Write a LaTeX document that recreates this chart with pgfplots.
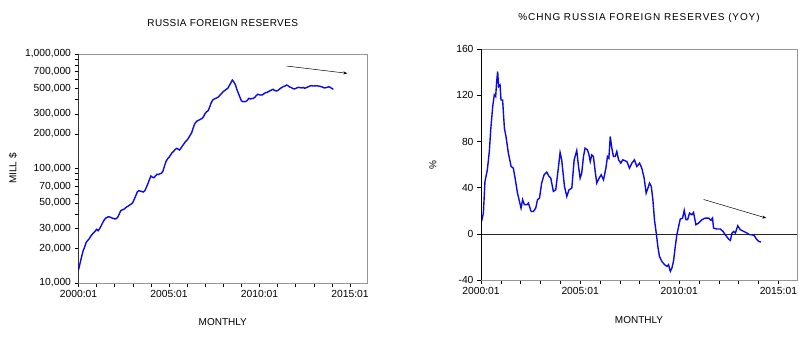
\documentclass[border=0pt]{standalone}
\usepackage{fontspec}
\setmainfont{Liberation Sans}
\newfontfamily\titlefont[LetterSpace=4]{Liberation Sans}
\newfontfamily\titlefontwide[LetterSpace=9]{Liberation Sans}
\usepackage{pgfplots}
\pgfplotsset{compat=1.18}
\usetikzlibrary{arrows.meta}
\definecolor{lineblue}{RGB}{10,10,230}
\definecolor{framegray}{RGB}{150,150,150}

\pgfplotstableread{
x y
2000.000 13000
2000.083 14800
2000.167 16800
2000.250 19000
2000.333 20500
2000.417 22500
2000.500 23500
2000.583 24200
2000.667 25500
2000.750 26500
2000.833 27500
2000.917 28300
2001.000 29400
2001.083 28600
2001.167 29800
2001.250 31500
2001.333 33500
2001.417 35500
2001.500 36800
2001.583 37500
2001.667 37900
2001.750 37600
2001.833 37000
2001.917 36700
2002.000 36200
2002.083 36500
2002.167 37500
2002.250 40000
2002.333 42800
2002.417 43500
2002.500 44000
2002.583 45000
2002.667 46300
2002.750 47000
2002.833 48000
2002.917 49000
2003.000 50500
2003.083 54000
2003.167 58000
2003.250 62500
2003.333 64000
2003.417 63500
2003.500 63000
2003.583 62300
2003.667 64000
2003.750 68500
2003.833 73500
2003.917 80000
2004.000 86000
2004.083 84000
2004.167 83000
2004.250 86000
2004.333 89000
2004.417 88500
2004.500 90000
2004.583 91000
2004.667 95000
2004.750 105000
2004.833 115000
2004.917 121000
2005.000 125000
2005.083 131000
2005.167 137000
2005.250 141000
2005.333 146000
2005.417 150000
2005.500 148000
2005.583 145000
2005.667 151000
2005.750 158000
2005.833 165000
2005.917 172000
2006.000 177000
2006.083 185000
2006.167 195000
2006.250 205000
2006.333 225000
2006.417 245000
2006.500 255000
2006.583 262000
2006.667 265000
2006.750 270000
2006.833 274000
2006.917 285000
2007.000 303000
2007.083 313000
2007.167 320000
2007.250 345000
2007.333 375000
2007.417 397000
2007.500 405000
2007.583 410000
2007.667 415000
2007.750 425000
2007.833 440000
2007.917 454000
2008.000 470000
2008.083 480000
2008.167 492000
2008.250 502000
2008.333 530000
2008.417 560000
2008.500 592000
2008.583 570000
2008.667 540000
2008.750 490000
2008.833 454000
2008.917 420000
2009.000 390000
2009.083 384000
2009.167 383000
2009.250 385000
2009.333 395000
2009.417 410000
2009.500 405000
2009.583 408000
2009.667 410000
2009.750 420000
2009.833 435000
2009.917 445000
2010.000 440000
2010.083 438000
2010.167 440000
2010.250 450000
2010.333 459000
2010.417 462000
2010.500 470000
2010.583 478000
2010.667 485000
2010.750 492000
2010.833 480000
2010.917 476000
2011.000 478000
2011.083 490000
2011.167 502000
2011.250 512000
2011.333 520000
2011.417 525000
2011.500 536000
2011.583 528000
2011.667 515000
2011.750 510000
2011.833 500000
2011.917 495000
2012.000 500000
2012.083 507000
2012.167 512000
2012.250 508000
2012.333 505000
2012.417 510000
2012.500 502000
2012.583 508000
2012.667 515000
2012.750 522000
2012.833 529000
2012.917 527000
2013.000 525000
2013.083 527000
2013.167 528000
2013.250 525000
2013.333 522000
2013.417 518000
2013.500 512000
2013.583 505000
2013.667 508000
2013.750 512000
2013.833 518000
2013.917 510000
2014.000 500000
2014.083 492000
}\reserves

\pgfplotstableread{
x y
2000.03 10.8
2000.12 18.0
2000.20 45.4
2000.32 55.5
2000.42 71.4
2000.49 90.2
2000.59 110.4
2000.67 120.5
2000.74 119.0
2000.79 132.0
2000.84 140.7
2000.89 127.7
2000.96 129.1
2001.01 116.1
2001.09 116.0
2001.18 91.6
2001.26 84.4
2001.38 70.0
2001.52 58.4
2001.63 57.0
2001.72 48.3
2001.84 35.3
2001.92 29.6
2002.02 22.3
2002.10 29.6
2002.19 25.2
2002.31 25.2
2002.39 26.7
2002.53 19.4
2002.64 19.4
2002.76 22.3
2002.85 29.6
2002.95 31.0
2003.06 44.0
2003.18 51.2
2003.32 53.5
2003.43 49.8
2003.52 48.3
2003.65 36.8
2003.77 38.2
2003.91 58.4
2003.99 70.5
2004.07 64.2
2004.21 41.1
2004.33 32.4
2004.44 38.2
2004.58 39.6
2004.70 64.2
2004.83 72.3
2004.92 58.4
2005.00 48.3
2005.08 52.6
2005.17 67.1
2005.25 74.3
2005.37 72.8
2005.45 68.5
2005.51 62.7
2005.59 68.5
2005.67 67.1
2005.76 54.1
2005.84 44.0
2005.96 48.3
2006.06 51.2
2006.18 46.9
2006.30 57.0
2006.38 67.1
2006.45 65.6
2006.52 84.4
2006.60 74.3
2006.68 67.1
2006.77 67.1
2006.85 71.4
2006.94 64.2
2007.05 61.3
2007.15 64.2
2007.36 62.7
2007.49 57.0
2007.61 61.3
2007.74 64.2
2007.86 58.4
2008.00 61.3
2008.11 57.0
2008.23 48.3
2008.33 35.3
2008.42 39.6
2008.50 44.0
2008.59 41.1
2008.67 29.6
2008.75 12.2
2008.84 0.7
2008.92 -10.9
2009.00 -19.5
2009.12 -23.8
2009.26 -26.7
2009.38 -28.2
2009.46 -26.7
2009.55 -32.5
2009.63 -29.6
2009.71 -23.8
2009.80 -10.9
2009.88 -0.8
2009.97 6.5
2010.05 12.8
2010.17 13.7
2010.25 20.3
2010.34 12.2
2010.42 12.2
2010.52 18.0
2010.64 16.6
2010.72 18.6
2010.84 7.9
2010.98 9.4
2011.14 12.2
2011.31 13.7
2011.48 13.7
2011.60 11.7
2011.68 13.7
2011.73 5.0
2011.90 4.2
2012.07 4.2
2012.21 2.1
2012.32 -0.8
2012.49 -4.5
2012.58 -5.7
2012.66 0.7
2012.74 2.1
2012.83 0.7
2012.95 7.0
2013.08 3.6
2013.25 2.1
2013.42 0.7
2013.55 -0.8
2013.67 -0.8
2013.79 -1.6
2013.89 -4.5
2014.01 -6.5
2014.12 -7.1
}\yoy

\pgfplotsset{
  evstyle/.style={
    scale only axis,
    axis line style={framegray, line width=0.6pt},
    tick align=outside,
    xtick pos=bottom, ytick pos=left,
    major tick length=4pt, minor tick length=4pt,
    every tick/.style={black, line width=0.5pt},
    every minor tick/.style={black, line width=0.5pt},
    tick label style={font=\fontsize{10.3}{12}\selectfont},
    label style={font=\fontsize{10}{12}\selectfont},
    title style={font=\titlefont\fontsize{10}{12}\selectfont},
    /pgf/number format/assume math mode=true,
    xmin=2000, xmax=2015.94,
    xtick={2000,2005,2010,2015},
    xticklabels={2000:01,2005:01,2010:01,2015:01},
    minor xtick={2001,2002,2003,2004,2006,2007,2008,2009,2011,2012,2013,2014},
  }
}

\begin{document}
\begin{tikzpicture}
\useasboundingbox (0,0) rectangle (804pt,351pt);

\begin{axis}[evstyle,
  at={(78.5pt,68pt)}, anchor=south west,
  width=288.5pt, height=229pt,
  ymode=log, ymin=10000, ymax=1000000,
  ytick={10000,20000,30000,50000,70000,100000,200000,300000,500000,700000,1000000},
  yticklabels={{10,000},{20,000},{30,000},{50,000},{70,000},{100,000},{200,000},{300,000},{500,000},{700,000},{1,000,000}},
  minor ytick={40000,60000,80000,90000,400000,600000,800000,900000},
  title={RUSSIA FOREIGN RESERVES},
  title style={at={(0.5,1)}, anchor=center, yshift=25pt},
  xlabel={MONTHLY},
  xlabel style={at={(axis description cs:0.5,0)}, anchor=center, yshift=-39pt},
  ylabel={MILL \$},
  ylabel style={at={(axis description cs:-0.227,0.5)}, anchor=center},
]
\addplot[lineblue, line width=1.4pt] table[x=x,y=y] {\reserves};
\draw[black, line width=0.6pt] (rel axis cs:0,1) -- (rel axis cs:0,0) -- (rel axis cs:1,0);
\draw[black, line width=0.5pt, -{Stealth[length=4pt,width=3pt]}] (axis cs:2011.5,785000) -- (axis cs:2014.85,678000);
\end{axis}

\begin{axis}[evstyle,
  at={(481pt,71pt)}, anchor=south west,
  width=316pt, height=230.7pt,
  ymin=-40, ymax=160,
  ytick={-40,0,40,80,120,160},
  yticklabels={-40,0,40,80,120,160},
  title={\%CHNG RUSSIA FOREIGN RESERVES (YOY)},
  title style={at={(0.5,1)}, anchor=center, yshift=25.3pt, font=\titlefontwide\fontsize{10}{12}\selectfont},
  xlabel={MONTHLY},
  xlabel style={at={(axis description cs:0.5,0)}, anchor=center, yshift=-40pt},
  ylabel={\%},
  ylabel style={at={(axis description cs:-0.152,0.5)}, anchor=center},
]
\draw[black!85, line width=0.6pt] (axis cs:2000,0) -- (axis cs:2015.94,0);
\addplot[lineblue, line width=1.4pt] table[x=x,y=y] {\yoy};
\draw[black, line width=0.6pt] (rel axis cs:0,1) -- (rel axis cs:0,0) -- (rel axis cs:1,0);
\draw[black, line width=0.5pt, -{Stealth[length=4pt,width=3pt]}] (axis cs:2011.23,29.8) -- (axis cs:2014.39,13.7);
\end{axis}
\end{tikzpicture}
\end{document}
